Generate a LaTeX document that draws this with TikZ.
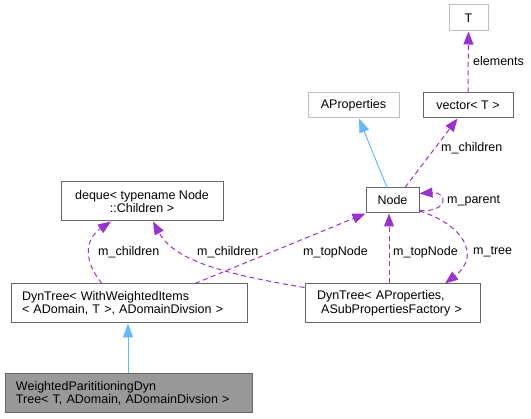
\documentclass[tikz,border=0pt]{standalone}
\usepackage{fontspec}
\setmainfont{Liberation Sans}
\usetikzlibrary{arrows.meta}
\definecolor{edgegray}{HTML}{666666}
\definecolor{lightgray}{HTML}{BFBFBF}
\definecolor{inhblue}{HTML}{63B8FF}
\definecolor{relpurple}{HTML}{9A32CD}
\definecolor{curfill}{HTML}{999999}
\begin{document}
\begin{tikzpicture}[x=1pt,y=-1pt,
  font=\fontsize{12.5}{13.5}\selectfont,
  box/.style={draw=edgegray, line width=1pt, fill=white, inner sep=0pt, align=center},
  lbox/.style={box, inner xsep=11pt, align=left},
  extbox/.style={box, draw=lightgray},
  curbox/.style={lbox, fill=curfill},
  inh/.style={draw=inhblue, line width=1pt, -{Triangle[length=14pt,width=10pt,fill=inhblue]}},
  rel/.style={draw=relpurple, color=relpurple, line width=1pt, dash pattern=on 5pt off 3.5pt, -{Triangle[length=13pt,width=10pt,fill=relpurple]}},
  lbl/.style={anchor=west, inner sep=0pt, fill=white}
]
\useasboundingbox (0,0) rectangle (531,419);

\node[extbox, minimum width=39pt, minimum height=26pt] (T) at (468.5,18) {T};
\node[box, minimum width=90pt, minimum height=25pt] (vec) at (468,105.5) {vector< T >};
\node[extbox, minimum width=91pt, minimum height=25pt] (AP) at (353.5,105.5) {AProperties};
\node[box, minimum width=53pt, minimum height=25pt] (N) at (392.5,200.5) {Node};
\node[box, minimum width=162pt, minimum height=39pt] (dq) at (142,201.5) {deque< typename Node\\::Children >};
\node[lbox, text width=214pt, minimum height=39pt] (dw) at (129,303.5) {DynTree< WithWeightedItems\\< ADomain, T >, ADomainDivsion >};
\node[lbox, inner xsep=12pt, text width=151pt, minimum height=39pt] (da) at (392.5,303.5) {DynTree< AProperties,\\\ ASubPropertiesFactory >};
\node[curbox, text width=225pt, minimum height=39pt] (wp) at (128.5,393.5) {WeightedParititioningDyn\\Tree< T, ADomain, ADomainDivsion >};

% inheritance
\draw[inh] ([xshift=-0.5pt]wp.north) -- ([xshift=-1pt]dw.south);
\draw[inh] ([xshift=-5.5pt]N.north) -- ([xshift=5.5pt]AP.south);

% relations
\draw[rel] ([xshift=12.5pt]N.north) -- ([xshift=-10.5pt]vec.south);
\node[lbl] (l1) at (441,148) {m\_children};

\draw[rel] (vec.north) -- (T.south);
\node[lbl] (l2) at (473,61) {elements};

\draw[rel] ([yshift=-10pt]N.east) .. controls +(30,2) and +(28,-2) .. ([yshift=7pt]N.east);
\node[lbl] (l3) at (447,201) {m\_parent};

\draw[rel] ([yshift=-10.5pt]N.east) .. controls (462,224) and (482,255) .. ([xshift=52.5pt]da.north);
\node[lbl] (l4) at (473,252) {m\_tree};

\draw[rel] ([xshift=-3.5pt]da.north) -- ([xshift=-3.5pt]N.south);
\node[lbl] (l5) at (393,252) {m\_topNode};

\draw[rel] ([xshift=66pt]dw.north) -- (N.south west);
\node[lbl] (l6) at (303,252) {m\_topNode};

\draw[rel] ([xshift=-27pt]dw.north) .. controls (84,262) and (84,240) .. ([xshift=-31pt]dq.south);
\node[lbl] (l7) at (98,252) {m\_children};

\draw[rel] ([yshift=-4pt]da.north west) .. controls (230,275) and (175,262) .. ([xshift=11pt]dq.south);
\node[lbl] (l8) at (197,252) {m\_children};
\end{tikzpicture}
\end{document}
